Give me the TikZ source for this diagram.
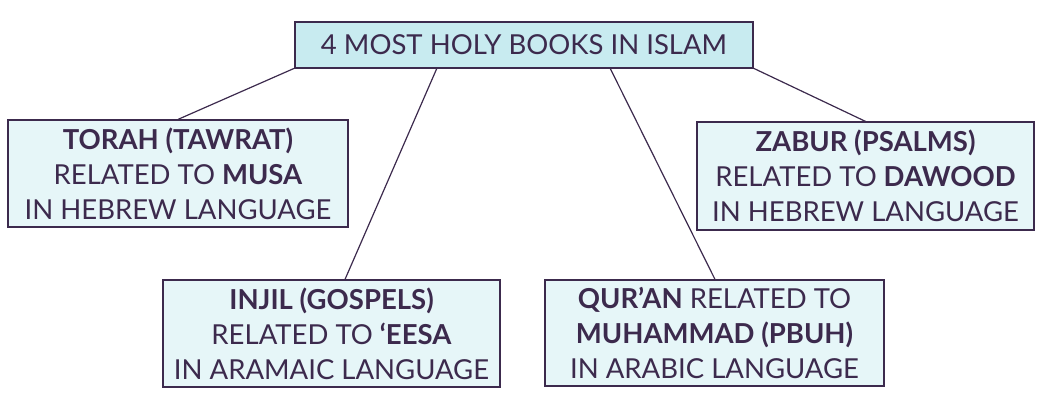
\documentclass[tikz,border=0pt]{standalone}
\usepackage{fontspec}
\setmainfont{Lato}
\definecolor{bd}{HTML}{3C2A4D}
\definecolor{topf}{HTML}{C8EBF0}
\definecolor{boxf}{HTML}{E6F6F8}
\begin{document}
\begin{tikzpicture}[x=1pt,y=-1pt,
  bx/.style={draw=bd,line width=1.2pt,fill=boxf,text=bd,align=center,inner sep=0pt,font=\fontsize{27.5}{35}\selectfont},
  ln/.style={draw=bd,line width=1.2pt}]
\useasboundingbox (0,0) rectangle (1047,400);
\node[bx,fill=topf,minimum width=458,minimum height=46] (top) at (524,45) {4 MOST HOLY BOOKS IN ISLAM};
\node[bx,minimum width=340,minimum height=107] (tor) at (178,173.5) {\textbf{TORAH (TAWRAT)}\\RELATED TO \textbf{MUSA}\\IN HEBREW LANGUAGE};
\node[bx,minimum width=337,minimum height=108] (zab) at (865.5,176) {\textbf{ZABUR (PSALMS)}\\RELATED TO \textbf{DAWOOD}\\IN HEBREW LANGUAGE};
\node[bx,minimum width=337,minimum height=107] (inj) at (331.5,333.5) {\textbf{INJIL (GOSPELS)}\\RELATED TO \textbf{‘EESA}\\IN ARAMAIC LANGUAGE};
\node[bx,minimum width=339,minimum height=106] (qur) at (714.5,333) {\textbf{QUR'AN} RELATED TO\\\textbf{MUHAMMAD (PBUH)}\\IN ARABIC LANGUAGE};
\coordinate (a1) at (295,68); \coordinate (a2) at (437,68);
\coordinate (a3) at (610,68); \coordinate (a4) at (753,68);
\draw[ln] (a1) -- (tor.north);
\draw[ln] (a2) -- (inj.north -| 345,0);
\draw[ln] (a3) -- (qur.north -| 715,0);
\draw[ln] (a4) -- (zab.north);
\end{tikzpicture}
\end{document}
